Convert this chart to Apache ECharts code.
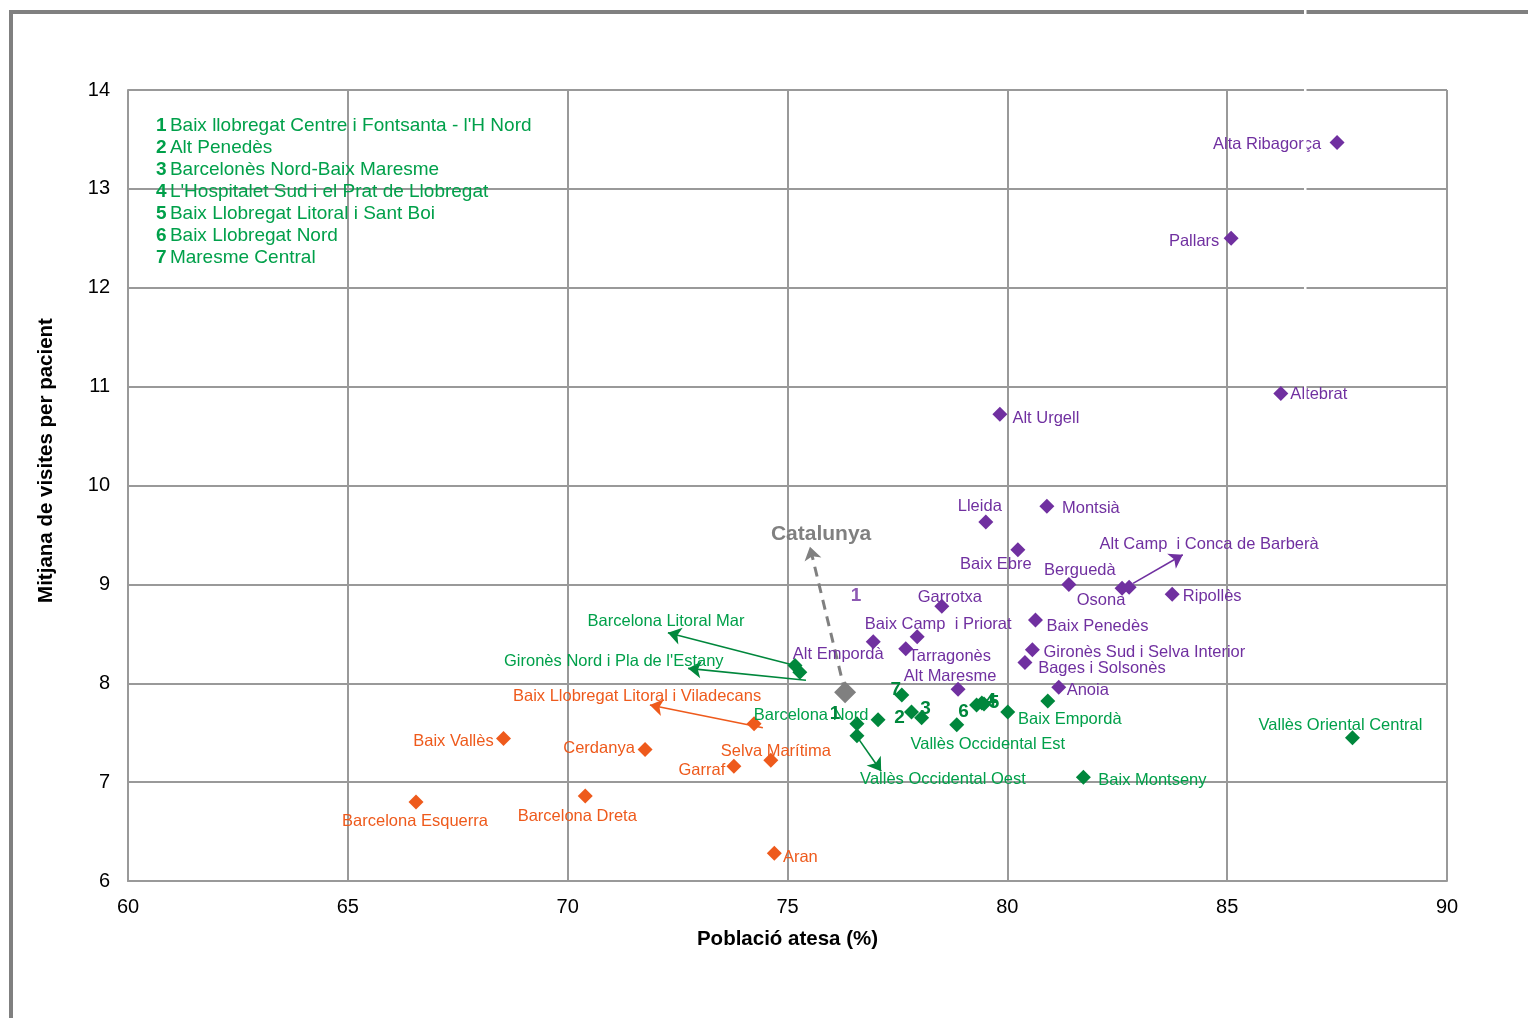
<!DOCTYPE html>
<html><head><meta charset="utf-8">
<script src="https://cdn.jsdelivr.net/npm/echarts@6/dist/echarts.min.js"></script>
<style>html,body{margin:0;padding:0;background:#fff}#c{width:1528px;height:1018px}</style>
</head><body><div id="c"></div><script>
// ---------- DATA ----------
const xTicks = [60, 65, 70, 75, 80, 85, 90];
const yTicks = [6, 7, 8, 9, 10, 11, 12, 13, 14];

const purpleNames = ["Alta Ribagorça","Pallars","Alt Urgell","Altebrat","Montsià","Lleida","Baix Ebre","Berguedà","Osona","Alt Camp  i Conca de Barberà","Ripollès","Garrotxa","Baix Penedès","Baix Camp  i Priorat","Alt Empordà","Tarragonès","Gironès Sud i Selva Interior","Bages i Solsonès","Anoia","Alt Maresme"];
const purpleX = [87.50, 85.09, 79.83, 86.22, 80.90, 79.51, 80.24, 81.40, 82.61, 82.77, 83.75, 78.51, 80.64, 77.95, 76.95, 77.69, 80.57, 80.40, 81.17, 78.88];
const purpleY = [13.47, 12.50, 10.72, 10.93, 9.79, 9.63, 9.35, 9.00, 8.96, 8.97, 8.90, 8.78, 8.64, 8.47, 8.42, 8.35, 8.34, 8.21, 7.96, 7.94];

const greenNames = ["Barcelona Litoral Mar","Gironès Nord i Pla de l'Estany","Barcelona Nord","Baix llobregat Centre i Fontsanta - l'H Nord","Alt Penedès","Barcelonès Nord-Baix Maresme","L'Hospitalet Sud i el Prat de Llobregat","Baix Llobregat Litoral i Sant Boi","Baix Llobregat Nord","Maresme Central","Vallès Occidental Est","Vallès Occidental Oest","Baix Empordà","Baix Montseny","Vallès Oriental Central","Selva"];
const greenLabels = ["Barcelona Litoral Mar","Gironès Nord i Pla de l'Estany","Barcelona Nord","1","2","3","4","5","6","7","Vallès Occidental Est","Vallès Occidental Oest","Baix Empordà","Baix Montseny","Vallès Oriental Central",""];
const greenX = [75.17, 75.28, 77.06, 76.58, 77.82, 78.05, 79.42, 79.47, 79.30, 77.60, 78.85, 76.58, 80.01, 81.73, 87.85, 80.92];
const greenY = [8.18, 8.11, 7.63, 7.59, 7.71, 7.65, 7.80, 7.79, 7.78, 7.88, 7.58, 7.47, 7.71, 7.05, 7.45, 7.82];

const orangeNames = ["Barcelona Esquerra","Barcelona Dreta","Baix Vallès","Cerdanya","Garraf","Selva Marítima","Baix Llobregat Litoral i Viladecans","Aran"];
const orangeX = [66.55, 70.40, 68.54, 71.76, 73.78, 74.62, 74.24, 74.70];
const orangeY = [6.80, 6.86, 7.44, 7.33, 7.16, 7.22, 7.59, 6.28];

const catalunyaName = "Catalunya";
const catalunyaX = [76.31];
const catalunyaY = [7.91];

const legendNumbers = ["1","2","3","4","5","6","7"];
const legendTexts = ["Baix llobregat Centre i Fontsanta - l'H Nord","Alt Penedès","Barcelonès Nord-Baix Maresme","L'Hospitalet Sud i el Prat de Llobregat","Baix Llobregat Litoral i Sant Boi","Baix Llobregat Nord","Maresme Central"];

// arrows (value coordinates): from -> to
const arrowGroup = ["purple","green","green","orange","green","gray"];
const arrowFromX = [82.86, 75.17, 75.42, 74.44, 76.58, 76.31];
const arrowFromY = [9.01, 8.18, 8.03, 7.55, 7.46, 7.91];
const arrowToX   = [83.99, 72.28, 72.74, 71.87, 77.13, 75.51];
const arrowToY   = [9.30, 8.51, 8.15, 7.78, 7.11, 9.38];

// stand-alone annotation "1" (purple)
const noteText = ["1"];
const noteX = [76.56];
const noteY = [8.88];

// ---------- LABEL PLACEMENT (pixel offsets of label centre from marker) ----------
const labelOffset = {
 "Alta Ribagorça":[-70,0],"Pallars":[-37,1],"Alt Urgell":[46,2],"Altebrat":[38,-1],"Montsià":[44,0],
 "Lleida":[-6,-18],"Baix Ebre":[-22,13],"Berguedà":[11,-16],"Osona":[-21,10],"Alt Camp  i Conca de Barberà":[80,-45],
 "Ripollès":[40,0],"Garrotxa":[8,-11],"Baix Penedès":[62,4],"Baix Camp  i Priorat":[21,-14],"Alt Empordà":[-35,11],
 "Tarragonès":[44,6],"Gironès Sud i Selva Interior":[112,1],"Bages i Solsonès":[77,4],"Anoia":[29,1],"Alt Maresme":[-8,-15],
 "Barcelona Litoral Mar":[-129,-46],"Gironès Nord i Pla de l'Estany":[-186,-13],"Barcelona Nord":[-67,-6],
 "Baix llobregat Centre i Fontsanta - l'H Nord":[-22,-12],"Alt Penedès":[-12,4],"Barcelonès Nord-Baix Maresme":[4,-11],
 "L'Hospitalet Sud i el Prat de Llobregat":[9,-4],"Baix Llobregat Litoral i Sant Boi":[10,-3],"Baix Llobregat Nord":[-13,5],
 "Maresme Central":[-6,-7],"Vallès Occidental Est":[31,18],"Vallès Occidental Oest":[86,42],"Baix Empordà":[62,6],
 "Baix Montseny":[69,1],"Vallès Oriental Central":[-12,-14],"Selva":[0,0],
 "Barcelona Esquerra":[-1,18],"Barcelona Dreta":[-8,18],"Baix Vallès":[-50,1],"Cerdanya":[-46,-3],"Garraf":[-32,2],
 "Selva Marítima":[5,-11],"Baix Llobregat Litoral i Viladecans":[-117,-29],"Aran":[26,2],
 "Catalunya":[-24,-160]
};

// ---------- STYLE ----------
const FONT = "'Liberation Sans', Arial, sans-serif";
const C = {
  purple: {mark:'#7030A0', text:'#7030A0'},
  green:  {mark:'#00873C', text:'#00A04A'},
  orange: {mark:'#EE5A1C', text:'#EE5A1C'},
  gray:   {mark:'#808080', text:'#808080'}
};

function mkData(names, xs, ys, labels, group) {
  return names.map((n, i) => {
    const txt = labels ? labels[i] : n;
    const isNum = /^\d$/.test(txt);
    const off = labelOffset[n] || [0, 0];
    return {
      name: n,
      value: [xs[i], ys[i]],
      label: {
        show: txt !== '',
        position: 'inside',
        offset: [off[0], off[1] + 2],
        formatter: txt,
        color: isNum ? C[group].mark : C[group].text,
        fontSize: isNum ? 19 : 16.5,
        fontWeight: isNum ? 'bold' : 'normal',
        fontFamily: FONT
      }
    };
  });
}

function scatter(group, data, size) {
  return {
    type: 'scatter', symbol: 'diamond', symbolSize: size,
    itemStyle: {color: C[group].mark, opacity: 1},
    data: data, z: 5,
    emphasis: {disabled: true}
  };
}

const arrowData = arrowGroup.map((g, i) => ({
  coords: [[arrowFromX[i], arrowFromY[i]], [arrowToX[i], arrowToY[i]]],
  lineStyle: {color: C[g].mark, width: g === 'gray' ? 3 : 1.6, type: g === 'gray' ? [10, 7] : 'solid', opacity: 1}
}));

const catData = mkData([catalunyaName], catalunyaX, catalunyaY, null, 'gray');
catData[0].label.fontSize = 21;
catData[0].label.fontWeight = 'bold';

const option = {
  animation: false,
  backgroundColor: '#fff',
  grid: {left: 128, top: 90, right: 81, bottom: 137, show: false},
  xAxis: {
    type: 'value', min: xTicks[0], max: xTicks[xTicks.length - 1], interval: xTicks[1] - xTicks[0],
    name: 'Població atesa (%)', nameLocation: 'middle', nameGap: 48,
    nameTextStyle: {fontFamily: FONT, fontSize: 20.5, fontWeight: 'bold', color: '#000'},
    axisLine: {show: true, lineStyle: {color: '#999', width: 2}},
    axisTick: {show: false},
    axisLabel: {fontFamily: FONT, fontSize: 20, color: '#000', margin: 16},
    splitLine: {show: true, lineStyle: {color: '#999', width: 2}}
  },
  yAxis: {
    type: 'value', min: yTicks[0], max: yTicks[yTicks.length - 1], interval: yTicks[1] - yTicks[0],
    name: 'Mitjana de visites per pacient', nameLocation: 'middle', nameGap: 71,
    nameTextStyle: {fontFamily: FONT, fontSize: 20.5, fontWeight: 'bold', color: '#000', padding: [0, 0, 0, 50]},
    axisLine: {show: true, lineStyle: {color: '#999', width: 2}},
    axisTick: {show: false},
    axisLabel: {fontFamily: FONT, fontSize: 20, color: '#000', margin: 18},
    splitLine: {show: true, lineStyle: {color: '#999', width: 2}}
  },
  series: [
    {
      type: 'lines', coordinateSystem: 'cartesian2d', polyline: false,
      symbol: ['none', 'arrow'], symbolSize: [0, 13],
      data: arrowData, z: 4, silent: true
    },
    scatter('orange', mkData(orangeNames, orangeX, orangeY, null, 'orange'), 15),
    scatter('purple', mkData(purpleNames, purpleX, purpleY, null, 'purple'), 15),
    scatter('green', mkData(greenNames, greenX, greenY, greenLabels, 'green'), 15),
    scatter('gray', catData, 22),
    {
      type: 'scatter', symbolSize: 0, silent: true,
      data: noteText.map((t, i) => ({value: [noteX[i], noteY[i]], label: {show: true, position: 'inside', formatter: t, color: C.purple.mark, fontSize: 19, fontWeight: 'bold', fontFamily: FONT}}))
    }
  ],
  graphic: [
    {type: 'line', shape: {x1: 11, y1: 10, x2: 11, y2: 1018}, style: {stroke: '#808080', lineWidth: 4}, z: 100},
    {type: 'line', shape: {x1: 9, y1: 12, x2: 1528, y2: 12}, style: {stroke: '#808080', lineWidth: 4}, z: 100},
    {type: 'rect', shape: {x: 1304, y: 0, width: 2.5, height: 400}, style: {fill: '#fff'}, z: 200},
    {
      type: 'text', left: 156, top: 116, z: 50,
      style: {
        text: legendNumbers.map((n, i) => '{n|' + n + '} {t|' + legendTexts[i] + '}').join('\n'),
        rich: {
          n: {fontFamily: FONT, fontSize: 19, fontWeight: 'bold', fill: C.green.text, lineHeight: 22},
          t: {fontFamily: FONT, fontSize: 19, fill: C.green.text, lineHeight: 22}
        }
      }
    }
  ]
};

const chart = echarts.init(document.getElementById('c'), null, {renderer: 'canvas'});
chart.setOption(option);
</script></body></html>
